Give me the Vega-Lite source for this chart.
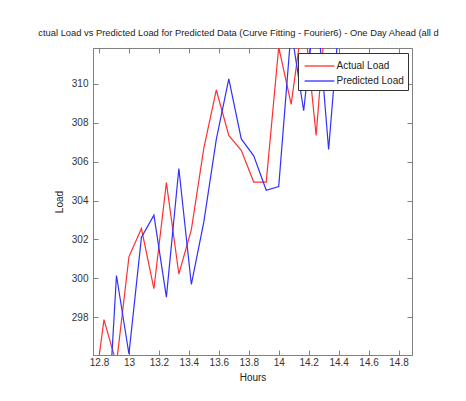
{
  "$schema": "https://vega.github.io/schema/vega-lite/v6.json",
  "width": 319,
  "height": 307,
  "autosize": {"type": "none"},
  "padding": {"left": 93, "top": 48, "right": 54, "bottom": 46},
  "background": "white",
  "config": {
    "font": "Liberation Sans",
    "view": {"stroke": "#808080", "strokeWidth": 1},
    "axis": {"grid": false, "domainColor": "#808080", "tickColor": "#808080", "tickSize": -5, "labelColor": "#333", "titleColor": "#222", "labelFontSize": 10, "titleFontSize": 10, "titleFontWeight": "normal", "labelFont": "Liberation Sans", "titleFont": "Liberation Sans"}
  },
  "title": {"text": "ctual Load vs Predicted Load for Predicted Data (Curve Fitting - Fourier6) - One Day Ahead (all d", "fontSize": 9.35, "fontWeight": "normal", "color": "#222", "font": "Liberation Sans", "offset": 9, "dx": -14},
  "data": {"values": [
    {"h": 12.75, "load": 293.0, "series": "Actual Load"},
    {"h": 12.8333, "load": 297.87, "series": "Actual Load"},
    {"h": 12.9167, "load": 295.6, "series": "Actual Load"},
    {"h": 13.0, "load": 301.1, "series": "Actual Load"},
    {"h": 13.0833, "load": 302.56, "series": "Actual Load"},
    {"h": 13.1667, "load": 299.46, "series": "Actual Load"},
    {"h": 13.25, "load": 304.92, "series": "Actual Load"},
    {"h": 13.3333, "load": 300.22, "series": "Actual Load"},
    {"h": 13.4167, "load": 302.5, "series": "Actual Load"},
    {"h": 13.5, "load": 306.7, "series": "Actual Load"},
    {"h": 13.5833, "load": 309.69, "series": "Actual Load"},
    {"h": 13.6667, "load": 307.35, "series": "Actual Load"},
    {"h": 13.75, "load": 306.58, "series": "Actual Load"},
    {"h": 13.8333, "load": 304.95, "series": "Actual Load"},
    {"h": 13.9167, "load": 304.95, "series": "Actual Load"},
    {"h": 14.0, "load": 311.9, "series": "Actual Load"},
    {"h": 14.0833, "load": 308.95, "series": "Actual Load"},
    {"h": 14.1667, "load": 313.7, "series": "Actual Load"},
    {"h": 14.25, "load": 307.35, "series": "Actual Load"},
    {"h": 14.3333, "load": 315.5, "series": "Actual Load"},
    {"h": 12.8333, "load": 289.0, "series": "Predicted Load"},
    {"h": 12.9167, "load": 300.14, "series": "Predicted Load"},
    {"h": 13.0, "load": 296.1, "series": "Predicted Load"},
    {"h": 13.0833, "load": 302.1, "series": "Predicted Load"},
    {"h": 13.1667, "load": 303.25, "series": "Predicted Load"},
    {"h": 13.25, "load": 299.03, "series": "Predicted Load"},
    {"h": 13.3333, "load": 305.65, "series": "Predicted Load"},
    {"h": 13.4167, "load": 299.68, "series": "Predicted Load"},
    {"h": 13.5, "load": 302.9, "series": "Predicted Load"},
    {"h": 13.5833, "load": 307.15, "series": "Predicted Load"},
    {"h": 13.6667, "load": 310.26, "series": "Predicted Load"},
    {"h": 13.75, "load": 307.17, "series": "Predicted Load"},
    {"h": 13.8333, "load": 306.3, "series": "Predicted Load"},
    {"h": 13.9167, "load": 304.53, "series": "Predicted Load"},
    {"h": 14.0, "load": 304.72, "series": "Predicted Load"},
    {"h": 14.0833, "load": 312.8, "series": "Predicted Load"},
    {"h": 14.1667, "load": 308.62, "series": "Predicted Load"},
    {"h": 14.25, "load": 314.5, "series": "Predicted Load"},
    {"h": 14.3333, "load": 306.63, "series": "Predicted Load"},
    {"h": 14.4167, "load": 314.5, "series": "Predicted Load"}
  ]},
  "layer": [
    {
      "mark": {"type": "line", "clip": true, "strokeWidth": 1.2},
      "encoding": {
        "x": {"field": "h", "type": "quantitative", "scale": {"domain": [12.76, 14.89], "nice": false, "zero": false},
              "axis": {"orient": "bottom", "values": [12.8, 13, 13.2, 13.4, 13.6, 13.8, 14, 14.2, 14.4, 14.6, 14.8], "format": "~g", "labelPadding": 7, "title": "Hours", "titlePadding": 5}},
        "y": {"field": "load", "type": "quantitative", "scale": {"domain": [296.05, 311.85], "nice": false, "zero": false},
              "axis": {"orient": "left", "values": [298, 300, 302, 304, 306, 308, 310], "labelPadding": 10, "title": "Load", "titlePadding": 7}},
        "color": {"field": "series", "type": "nominal",
                  "scale": {"domain": ["Actual Load", "Predicted Load"], "range": ["#ff3030", "#3030ff"]},
                  "legend": {"orient": "top-right", "offset": 4.5, "title": null, "symbolType": "M-0.75,0H2.75", "symbolSize": 289, "symbolStrokeWidth": 1.3, "symbolFillColor": "transparent", "labelFontSize": 10, "labelFont": "Liberation Sans", "labelColor": "#222", "labelOffset": 16, "rowPadding": 0, "padding": 3.5, "strokeColor": "#333", "fillColor": "white", "cornerRadius": 0}},
        "detail": {"field": "series"}
      }
    },
    {
      "mark": {"type": "point", "opacity": 0, "clip": true},
      "encoding": {
        "x": {"field": "h", "type": "quantitative", "scale": {"domain": [12.76, 14.89], "nice": false, "zero": false},
              "axis": {"orient": "top", "values": [12.8, 13, 13.2, 13.4, 13.6, 13.8, 14, 14.2, 14.4, 14.6, 14.8], "labels": false, "title": null}},
        "y": {"field": "load", "type": "quantitative", "scale": {"domain": [296.05, 311.85], "nice": false, "zero": false},
              "axis": {"orient": "right", "values": [298, 300, 302, 304, 306, 308, 310], "labels": false, "title": null}}
      }
    }
  ],
  "resolve": {"axis": {"x": "independent", "y": "independent"}}
}
